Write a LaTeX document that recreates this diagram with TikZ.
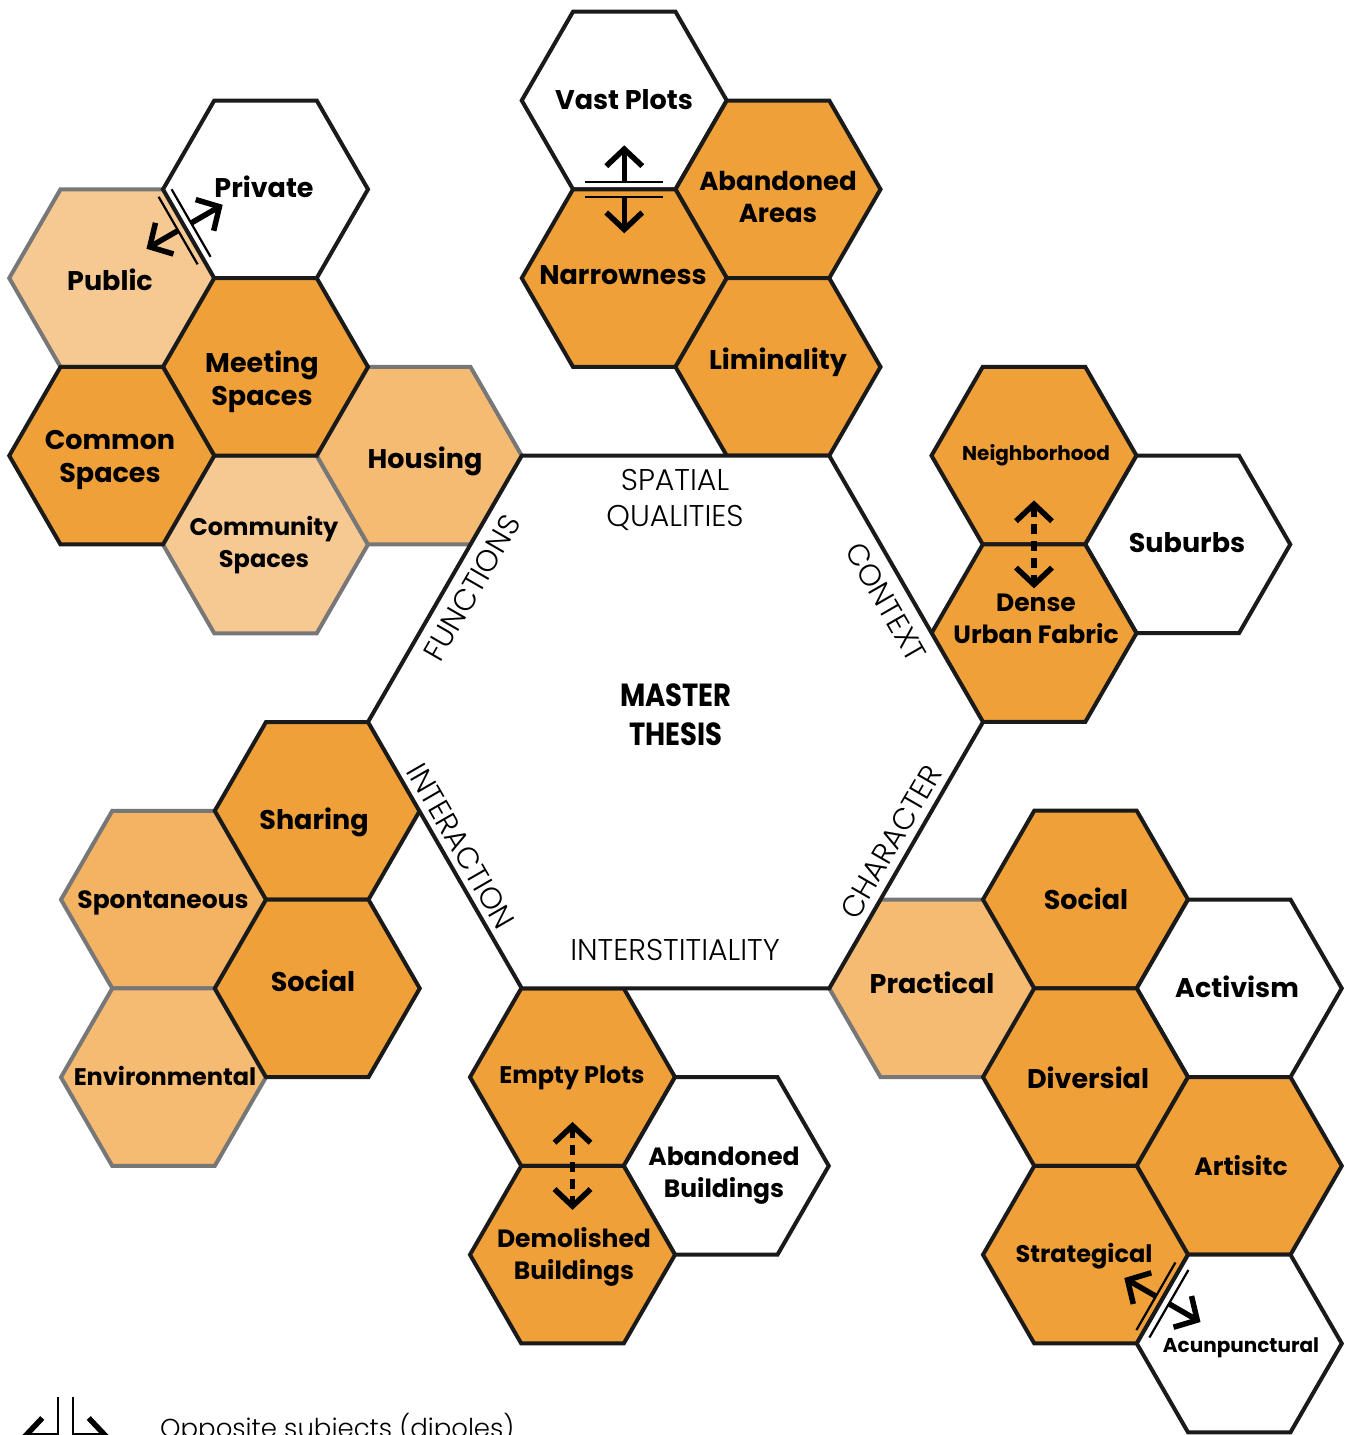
\documentclass[tikz,border=0pt]{standalone}
\usepackage{fontspec}
\usepackage{graphicx}
\setmainfont{Poppins}
\newfontfamily\thinfont{Poppins Light}
\usetikzlibrary{shapes.geometric,arrows.meta}
\definecolor{hdark}{HTML}{F0A038}
\definecolor{hmid}{HTML}{F5BB72}
\definecolor{hmidd}{HTML}{F4B263}
\definecolor{hlight}{HTML}{F6C892}
\definecolor{hedge}{HTML}{1A1A1A}
\definecolor{hgrey}{HTML}{777777}
\newcommand\hs{\rule[-0.28em]{0pt}{1.2em}}
\newcommand\twol[2]{\hs #1\\\hs #2}
\begin{document}
\begin{tikzpicture}[x=1pt,y=-1pt,
  hexbase/.style={regular polygon, regular polygon sides=6, minimum size=205pt, inner sep=0pt, outer sep=0pt, line width=4pt, line join=miter},
  hexdark/.style={hexbase, draw=hedge, fill=hdark},
  hexwhite/.style={hexbase, draw=hedge, fill=white},
  hexmid/.style={hexbase, draw=hgrey, fill=hmid},
  hexmidd/.style={hexbase, draw=hgrey, fill=hmidd},
  hexlight/.style={hexbase, draw=hgrey, fill=hlight},
  bighex/.style={regular polygon, regular polygon sides=6, minimum size=615pt, inner sep=0pt, outer sep=0pt, line width=4pt, line join=miter, draw=hedge, fill=white},
  lbl/.style={font=\fontsize{27}{33}\selectfont\bfseries, align=center, inner sep=0pt, text=black},
  side/.style={font=\thinfont\fontsize{30}{36}\selectfont, align=center, inner sep=0pt, text=black},
  sepline/.style={line width=2.2pt, draw=black},
  dparrow/.style={line width=5.5pt, -{Straight Barb[length=17pt,width=36pt,sharp]}},
  dasharrow/.style={line width=5.5pt, dash pattern=on 10pt off 7pt, {Straight Barb[length=17pt,width=36pt,sharp]}-{Straight Barb[length=17pt,width=36pt,sharp]}},
  dipole/.pic={
    \draw[sepline] (-39,-7.5) -- (39,-7.5);
    \draw[sepline] (-39,7.5) -- (39,7.5);
    \draw[dparrow] (0,-8) -- (0,-44);
    \draw[dparrow] (0,8) -- (0,44);
  },
  dashpair/.pic={
    \draw[dasharrow] (0,-44) -- (0,44);
  }
]
\useasboundingbox (0,0) rectangle (1352,1435);
\clip (0,0) rectangle (1352,1435);
\fill[white] (0,0) rectangle (1352,1435);

% light / mid hexagons first (grey borders)
\node[hexlight] (pub)  at (111.75,278.1) {};
\node[hexlight] (cmty) at (265.5,544.5) {};
\node[hexmid]   (hous) at (419.25,455.7) {};
\node[hexmidd]  (spon) at (163.5,899.6) {};
\node[hexmid]   (envi) at (163.5,1077.2) {};
\node[hexmid]   (prac) at (931.75,988.3) {};

% dark and white hexagons
\node[hexwhite] (priv) at (265.5,189.3) {};
\node[hexdark]  (meet) at (265.5,366.9) {};
\node[hexdark]  (comm) at (111.75,455.7) {};

\node[hexwhite] (vast) at (624.25,100.5) {};
\node[hexdark]  (aban) at (778,189.3) {};
\node[hexdark]  (narr) at (624.25,278.1) {};
\node[hexdark]  (limi) at (778,366.9) {};

\node[hexdark]  (neig) at (1034,455.6) {};
\node[hexwhite] (subu) at (1187.75,544.4) {};
\node[hexdark]  (dens) at (1034,633.2) {};

\node[hexdark]  (soc2) at (1085.5,899.5) {};
\node[hexwhite] (acti) at (1239.25,988.3) {};
\node[hexdark]  (dive) at (1085.5,1077.1) {};
\node[hexdark]  (arti) at (1239.25,1165.9) {};
\node[hexdark]  (stra) at (1085.5,1254.7) {};
\node[hexwhite] (acun) at (1239.25,1343.5) {};

\node[hexdark]  (shar) at (317.25,810.8) {};
\node[hexdark]  (soc1) at (317.25,988.4) {};

\node[hexdark]  (empt) at (572.5,1077.1) {};
\node[hexwhite] (abbu) at (726.25,1165.9) {};
\node[hexdark]  (demo) at (572.5,1254.7) {};

% central hexagon
\node[bighex] (big) at (675.5,722) {};

% labels of the small hexagons
\node[lbl] (tvast) at (624,101) {\hs Vast Plots};
\node[lbl,font=\fontsize{26}{32}\selectfont\bfseries] (taban) at (778,198) {\twol{Abandoned}{Areas}};
\node[lbl] (tnarr) at (623,276) {\hs Narrowness};
\node[lbl] (tlimi) at (778,361) {\hs Liminality};
\node[lbl] (tpriv) at (264,189) {\hs Private};
\node[lbl] (tpub)  at (110,282) {\hs Public};
\node[lbl] (tmeet) at (262,380) {\twol{Meeting}{Spaces}};
\node[lbl] (tcomm) at (110,457) {\twol{Common}{Spaces}};
\node[lbl,font=\fontsize{24}{32}\selectfont\bfseries] (tcmty) at (264,544) {\twol{Community}{Spaces}};
\node[lbl] (thous) at (425,460) {\hs Housing};
\node[lbl,font=\fontsize{20}{26}\selectfont\bfseries] (tneig) at (1036,454) {\hs Neighborhood};
\node[lbl] (tsubu) at (1187,544) {\hs Suburbs};
\node[lbl,font=\fontsize{25}{32}\selectfont\bfseries] (tdens) at (1036,619) {\twol{Dense}{Urban Fabric}};
\node[lbl] (tshar) at (314,821) {\hs Sharing};
\node[lbl,font=\fontsize{25}{32}\selectfont\bfseries] (tspon) at (163,900) {\hs Spontaneous};
\node[lbl] (tsoc1) at (313,983) {\hs Social};
\node[lbl,font=\fontsize{24}{32}\selectfont\bfseries] (tenvi) at (165,1078) {\hs Environmental};
\node[lbl,font=\fontsize{24}{32}\selectfont\bfseries] (tempt) at (572,1076) {\hs Empty Plots};
\node[lbl,font=\fontsize{25}{32}\selectfont\bfseries] (tabbu) at (724,1173) {\twol{Abandoned}{Buildings}};
\node[lbl,font=\fontsize{25}{32}\selectfont\bfseries] (tdemo) at (574,1255) {\twol{Demolished}{Buildings}};
\node[lbl] (tprac) at (932,985) {\hs Practical};
\node[lbl] (tsoc2) at (1086,901) {\hs Social};
\node[lbl] (tacti) at (1237,989) {\hs Activism};
\node[lbl] (tdive) at (1088,1080) {\hs Diversial};
\node[lbl,font=\fontsize{25}{32}\selectfont\bfseries] (tarti) at (1241,1167) {\hs Artisitc};
\node[lbl,font=\fontsize{24}{30}\selectfont\bfseries] (tstra) at (1084,1255) {\hs Strategical};
\node[lbl,font=\fontsize{20}{26}\selectfont\bfseries] (tacun) at (1241,1346) {\hs Acunpunctural};

% labels of the central hexagon
\node[side] (tspat) at (675,499) {\twol{SPATIAL}{QUALITIES}};
\node[side] (tinter) at (675,950) {INTERSTITIALITY};
\node[side,rotate=60] (tfunc) at (472,588) {FUNCTIONS};
\node[side,rotate=-60] (tcont) at (886,602) {CONTEXT};
\node[side,rotate=60] (tchar) at (891,842) {CHARACTER};
\node[side,rotate=-60] (tinta) at (461,846) {INTERACTION};
\node[lbl,font=\fontsize{32}{37}\selectfont\bfseries] (tmast) at (676,716) {\hs\scalebox{0.86}[1]{MASTER}\\\hs\scalebox{0.86}[1]{THESIS}};

% dipoles (opposite subjects)
\pic[rotate=0] at (624.25,189.3) {dipole};
\pic[rotate=-60] at (184.6,226.8) {dipole};
\pic[rotate=60] at (1162.4,1300) {dipole};

% dashed double arrows
\pic at (1034,544.4) {dashpair};
\pic at (572.5,1165.9) {dashpair};

% legend
\pic[rotate=90] at (65.5,1436) {dipole};
\node[side,font=\thinfont\fontsize{26}{30}\selectfont,anchor=base west] (tleg) at (160,1437) {Opposite subjects (dipoles)};
\end{tikzpicture}
\end{document}
